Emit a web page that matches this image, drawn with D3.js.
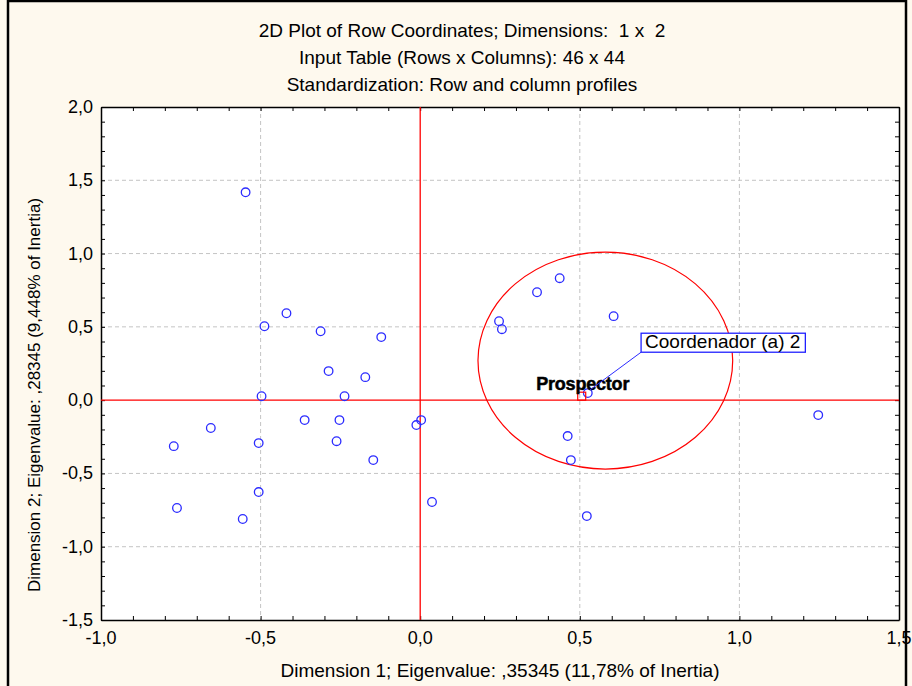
<!DOCTYPE html>
<html>
<head>
<meta charset="utf-8">
<script src="https://cdn.jsdelivr.net/npm/d3@7"></script>
<style>
body{margin:0;background:#fff;}
text{font-family:"Liberation Sans",Arial,sans-serif;white-space:pre;}
</style>
</head>
<body>
<script>
// row coordinates (dimension 1, dimension 2)
var dim1 = [-0.547,-0.488,-0.419,-0.312,-0.122,-0.287,-0.172,-0.497,-0.237,-0.362,-0.253,
            -0.656,-0.772,-0.506,-0.262,-0.147,-0.012,0.003,-0.762,-0.506,-0.556,0.037,
            0.437,0.366,0.247,0.256,0.606,0.462,0.472,0.522,1.247,0.525];
var dim2 = [1.418,0.504,0.593,0.470,0.430,0.198,0.157,0.027,0.027,-0.136,-0.136,
            -0.190,-0.314,-0.293,-0.280,-0.409,-0.170,-0.136,-0.736,-0.627,-0.811,-0.695,
            0.832,0.736,0.539,0.484,0.573,-0.245,-0.409,-0.791,-0.102,0.048];
var xTicks = [-1.0,-0.5,0.0,0.5,1.0,1.5];
var yTicks = [-1.5,-1.0,-0.5,0.0,0.5,1.0,1.5,2.0];
var titles = ["2D Plot of Row Coordinates; Dimensions:  1 x  2",
              "Input Table (Rows x Columns): 46 x 44",
              "Standardization: Row and column profiles"];
var xTitle = "Dimension 1; Eigenvalue: ,35345 (11,78% of Inertia)";
var yTitle = "Dimension 2; Eigenvalue: ,28345 (9,448% of Inertia)";
// highlighted row and ellipse (centre, radii in data units)
var prospector = {label:"Prospector", x:0.506, y:0.027};
var labelled = {label:"Coordenador (a) 2", x:0.525, y:0.048, lx:0.692, ly:0.327};
var ellipse = {cx:0.58, cy:0.27, rx:0.399, ry:0.74};

var w = 912, h = 686;
var pLeft = 101, pRight = 899, pTop = 107, pBottom = 620;
var fs = 19;

var svg = d3.select("body").append("svg").attr("width",w).attr("height",h);

svg.append("rect").attr("x",0).attr("y",0).attr("width",w).attr("height",h).attr("fill","#fef9ee");

var xScale = d3.scaleLinear().domain([-1,1.5]).range([pLeft,pRight]);
var yScale = d3.scaleLinear().domain([-1.5,2]).range([pBottom,pTop]);
var fmt = function(d){ return d3.format(".1f")(d).replace(".",",").replace("−","-"); };

svg.append("rect").attr("x",pLeft).attr("y",pTop).attr("width",pRight-pLeft).attr("height",pBottom-pTop).attr("fill","#fff");

// grid
svg.append("g").selectAll("line").data(xTicks.slice(1,-1).filter(d=>d!==0)).join("line")
	.attr("x1",d=>xScale(d)).attr("x2",d=>xScale(d)).attr("y1",pTop).attr("y2",pBottom)
	.attr("stroke","#c4c4c4").attr("stroke-dasharray","4,3");
svg.append("g").selectAll("line").data(yTicks.slice(1,-1).filter(d=>d!==0)).join("line")
	.attr("y1",d=>yScale(d)).attr("y2",d=>yScale(d)).attr("x1",pLeft).attr("x2",pRight)
	.attr("stroke","#c4c4c4").attr("stroke-dasharray","4,3");

// axes with inward minor ticks on all sides
var xMinor = d3.range(-10,16).map(d=>d/10);
var yMinor = d3.range(-15,21).map(d=>d/10);
function axis(gen, scale, vals, tr){
	var g = svg.append("g").attr("transform",tr)
		.call(gen(scale).tickValues(vals).tickSize(-4).tickSizeOuter(0).tickFormat(""));
	g.select(".domain").attr("stroke","#000").attr("stroke-width",1.5);
	g.selectAll(".tick line").attr("stroke","#000");
	return g;
}
axis(d3.axisBottom, xScale, xMinor, "translate(0,"+pBottom+")");
axis(d3.axisTop, xScale, xMinor, "translate(0,"+pTop+")");
axis(d3.axisLeft, yScale, yMinor, "translate("+pLeft+",0)");
axis(d3.axisRight, yScale, yMinor, "translate("+pRight+",0)");

svg.append("g").selectAll("text").data(xTicks).join("text")
	.attr("x",d=>xScale(d)).attr("y",pBottom+24).attr("text-anchor","middle")
	.attr("font-size",18).text(fmt);
svg.append("g").selectAll("text").data(yTicks).join("text")
	.attr("x",pLeft-8).attr("y",d=>yScale(d)+6).attr("text-anchor","end")
	.attr("font-size",18).text(fmt);

// zero lines
svg.append("line").attr("x1",xScale(0)).attr("x2",xScale(0)).attr("y1",pTop).attr("y2",pBottom)
	.attr("stroke","#ff0000").attr("stroke-width",1.3);
svg.append("line").attr("y1",yScale(0)).attr("y2",yScale(0)).attr("x1",pLeft).attr("x2",pRight)
	.attr("stroke","#ff0000").attr("stroke-width",1.3);

// ellipse
svg.append("ellipse")
	.attr("cx",xScale(ellipse.cx)).attr("cy",yScale(ellipse.cy))
	.attr("rx",xScale(ellipse.cx+ellipse.rx)-xScale(ellipse.cx))
	.attr("ry",yScale(ellipse.cy)-yScale(ellipse.cy+ellipse.ry))
	.attr("fill","none").attr("stroke","#ff0000").attr("stroke-width",1.2);

// points
svg.append("g").selectAll("circle").data(dim1).join("circle")
	.attr("cx",d=>xScale(d)).attr("cy",(d,i)=>yScale(dim2[i])).attr("r",4.3)
	.attr("fill","none").attr("stroke","#2b2bff").attr("stroke-width",1.3);

svg.append("rect")
	.attr("x",xScale(prospector.x)-4).attr("y",yScale(prospector.y)-4)
	.attr("width",8).attr("height",8)
	.attr("fill","none").attr("stroke","#ff0000").attr("stroke-width",1.2);
svg.append("text").attr("x",xScale(prospector.x)+1).attr("y",yScale(prospector.y)-6)
	.attr("text-anchor","middle").attr("font-size",18).attr("font-weight","bold")
	.attr("stroke","#000").attr("stroke-width",0.5).attr("letter-spacing",-0.2)
	.text(prospector.label);

// callout label
svg.append("line")
	.attr("x1",xScale(labelled.x)+2).attr("y1",yScale(labelled.y)-3)
	.attr("x2",xScale(labelled.lx)).attr("y2",yScale(labelled.ly))
	.attr("stroke","#2b2bff").attr("stroke-width",1);
var labBox = svg.append("rect");
var lab = svg.append("text").attr("x",xScale(labelled.lx)+4).attr("y",yScale(labelled.ly)-4)
	.attr("font-size",fs).text(labelled.label);
var bb = lab.node().getBBox();
labBox.attr("x",xScale(labelled.lx)).attr("y",yScale(labelled.ly)-19)
	.attr("width",bb.width+9).attr("height",19)
	.attr("fill","#fff").attr("stroke","#2020ff").attr("stroke-width",1.3);

// titles
svg.append("g").selectAll("text").data(titles).join("text")
	.attr("x",462).attr("y",(d,i)=>37+i*27).attr("text-anchor","middle")
	.attr("font-size",fs).text(d=>d);
svg.append("text").attr("x",(pLeft+pRight)/2).attr("y",677).attr("text-anchor","middle")
	.attr("font-size",fs).text(xTitle);
svg.append("text").attr("transform","translate(40,395) rotate(-90)").attr("text-anchor","middle")
	.attr("font-size",17).text(yTitle);

// outer frame
svg.append("rect").attr("x",8).attr("y",1).attr("width",898).attr("height",h+10)
	.attr("fill","none").attr("stroke","#000").attr("stroke-width",2.5);
</script>
</body>
</html>
